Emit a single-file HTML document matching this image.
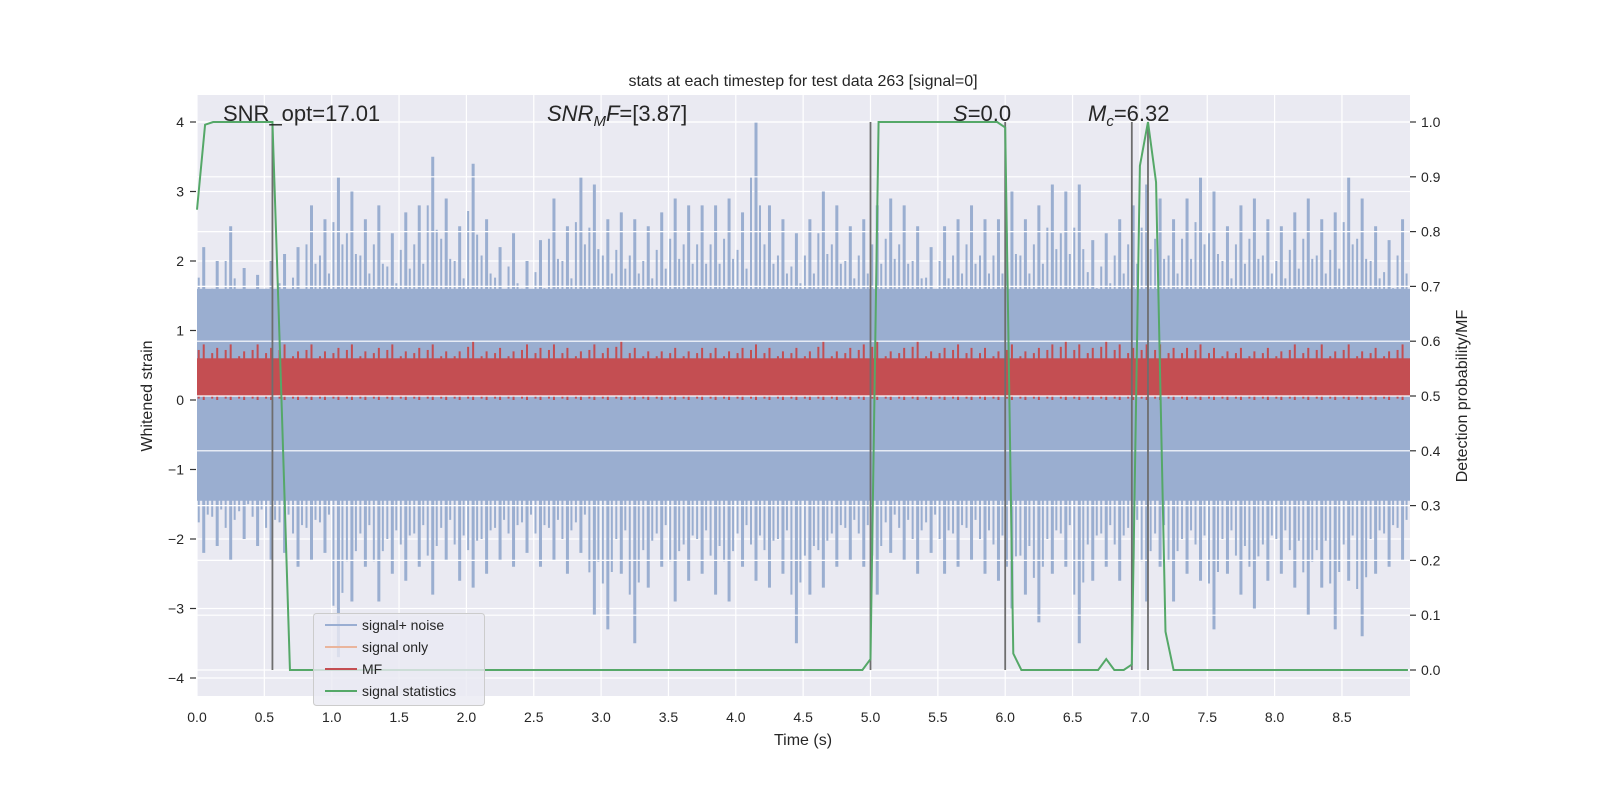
<!DOCTYPE html>
<html><head><meta charset="utf-8"><style>
html,body{margin:0;padding:0;background:#fff;width:1600px;height:800px;overflow:hidden}
svg text{font-family:"Liberation Sans","DejaVu Sans",sans-serif;fill:#262626}
</style></head><body>
<svg id="chart" width="1600" height="800" xmlns="http://www.w3.org/2000/svg">
<rect x="197" y="95" width="1213" height="601" fill="#eaeaf2"/>
<g id="gridL"></g>
<g id="blue"></g>
<g id="red"></g>
<g id="gridR"></g>
<g id="vlines"></g>
<g id="green"></g>
<g id="ticks"></g>
<text x="803" y="86" text-anchor="middle" font-size="16">stats at each timestep for test data 263 [signal=0]</text>
<text x="223" y="121" font-size="22">SNR_opt=17.01</text>
<text x="547" y="121" font-size="22"><tspan font-style="italic">SNR</tspan><tspan font-style="italic" font-size="15" dy="5">M</tspan><tspan font-style="italic" dy="-5">F</tspan>=[3.87]</text>
<text x="953" y="121" font-size="22"><tspan font-style="italic">S</tspan>=0.0</text>
<text x="1088" y="121" font-size="22"><tspan font-style="italic">M</tspan><tspan font-style="italic" font-size="15" dy="5">c</tspan><tspan dy="-5">=6.32</tspan></text>
<text x="803" y="745" text-anchor="middle" font-size="16">Time (s)</text>
<text transform="translate(152,396) rotate(-90)" text-anchor="middle" font-size="16">Whitened strain</text>
<text transform="translate(1467,396) rotate(-90)" text-anchor="middle" font-size="16">Detection probability/MF</text>
<g>
<rect x="313.5" y="613.5" width="171" height="92" rx="3" fill="#eaeaf2" fill-opacity="0.8" stroke="#cccccc"/>
<line x1="325" y1="625" x2="357" y2="625" stroke="#9aaed2" stroke-width="2"/>
<text x="362" y="630" font-size="14">signal+ noise</text>
<line x1="325" y1="647" x2="357" y2="647" stroke="#eab59c" stroke-width="2"/>
<text x="362" y="652" font-size="14">signal only</text>
<line x1="325" y1="669" x2="357" y2="669" stroke="#c44e52" stroke-width="2"/>
<text x="362" y="674" font-size="14">MF</text>
<line x1="325" y1="691" x2="357" y2="691" stroke="#55a868" stroke-width="2"/>
<text x="362" y="696" font-size="14">signal statistics</text>
</g>
</svg>
<script>
const xTicks=[0,0.5,1,1.5,2,2.5,3,3.5,4,4.5,5,5.5,6,6.5,7,7.5,8,8.5];
const xTickLabels=["0.0","0.5","1.0","1.5","2.0","2.5","3.0","3.5","4.0","4.5","5.0","5.5","6.0","6.5","7.0","7.5","8.0","8.5"];
const yTicks=[-4,-3,-2,-1,0,1,2,3,4];
const yTickLabels=["\u22124","\u22123","\u22122","\u22121","0","1","2","3","4"];
const y2Ticks=[0,0.1,0.2,0.3,0.4,0.5,0.6,0.7,0.8,0.9,1.0];
const y2TickLabels=["0.0","0.1","0.2","0.3","0.4","0.5","0.6","0.7","0.8","0.9","1.0"];
// noise peaks per 0.1 s bin
const noiseTop=[2.2,2.0,2.5,1.9,1.8,2.0,2.1,2.2,2.8,2.6,3.2,3.0,2.6,2.8,2.4,2.7,2.8,3.5,2.9,2.5,3.4,2.6,2.2,2.4,2.0,2.3,2.9,2.5,3.2,3.1,2.6,2.7,2.6,2.5,2.7,2.9,2.8,2.8,2.8,2.9,2.7,4.0,2.8,2.6,2.4,2.6,3.0,2.8,2.5,2.6,2.8,2.9,2.8,2.5,2.2,2.5,2.6,2.8,2.6,2.6,3.0,2.6,2.8,3.1,3.0,3.1,2.3,2.4,2.6,2.8,3.1,2.9,2.6,2.9,3.2,3.0,2.5,2.8,2.9,2.6,2.5,2.7,2.9,2.6,2.7,3.2,2.9,2.5,2.3,2.6];
const noiseBot=[-2.2,-2.1,-2.3,-2.0,-2.1,-2.3,-2.2,-2.4,-2.3,-2.2,-3.7,-2.9,-2.4,-2.9,-2.5,-2.6,-2.4,-2.8,-2.3,-2.6,-2.7,-2.5,-2.3,-2.4,-2.2,-2.4,-2.3,-2.5,-2.2,-3.1,-3.3,-2.5,-3.5,-2.7,-2.4,-2.9,-2.6,-2.5,-2.8,-2.9,-2.4,-2.6,-2.7,-2.5,-3.5,-2.8,-2.7,-2.4,-2.3,-2.4,-2.8,-2.2,-2.3,-2.5,-2.2,-2.5,-2.4,-2.3,-2.5,-2.6,-3.0,-2.8,-3.2,-2.5,-2.4,-3.5,-2.6,-2.4,-2.6,-2.3,-2.9,-2.4,-2.9,-2.5,-2.6,-3.3,-2.5,-2.8,-3.0,-2.6,-2.5,-2.7,-3.1,-2.7,-3.3,-2.6,-3.4,-2.5,-2.4,-2.3];
// MF peaks per 0.1 s bin
const mfTop=[0.8,0.75,0.8,0.7,0.8,0.75,0.8,0.7,0.8,0.7,0.75,0.8,0.7,0.75,0.8,0.7,0.75,0.8,0.7,0.7,0.85,0.7,0.75,0.7,0.8,0.75,0.8,0.75,0.7,0.8,0.75,0.85,0.75,0.7,0.7,0.75,0.7,0.75,0.75,0.7,0.75,0.8,0.75,0.7,0.75,0.7,0.85,0.7,0.75,0.8,0.85,0.7,0.75,0.85,0.7,0.75,0.8,0.75,0.75,0.7,0.8,0.7,0.75,0.8,0.85,0.8,0.75,0.85,0.8,0.75,0.8,0.8,0.75,0.75,0.8,0.75,0.7,0.75,0.7,0.75,0.7,0.8,0.75,0.8,0.7,0.8,0.7,0.75,0.7,0.8];
const statT=[0,0.06,0.12,0.19,0.25,0.31,0.38,0.44,0.5,0.56,0.62,0.69,1.0,2.0,3.0,4.0,4.94,5.0,5.06,5.5,5.88,5.94,6.0,6.06,6.12,6.5,6.69,6.75,6.81,6.88,6.94,7.0,7.06,7.12,7.19,7.25,7.31,8.0,8.99];
const statV=[0.84,0.995,1.0,1.0,1.0,1.0,1.0,1.0,1.0,1.0,0.55,0.0,0.0,0.0,0.0,0.0,0.0,0.02,1.0,1.0,1.0,1.0,0.99,0.03,0.0,0.0,0.0,0.02,0.0,0.0,0.01,0.92,1.0,0.89,0.07,0.0,0.0,0.0,0.0];
const markerT=[0.56,5.0,6.0,6.94,7.06];

const NS='http://www.w3.org/2000/svg';
const X=t=>197+t*134.7;
const YL=v=>400-v*69.5;
const YR=p=>670-p*548;
function mk(tag,attrs,parent){const e=document.createElementNS(NS,tag);for(const k in attrs)e.setAttribute(k,attrs[k]);document.getElementById(parent).appendChild(e);return e;}

xTicks.forEach((t,i)=>{
 const g=mk('line',{x1:X(t),x2:X(t),y1:95,y2:696,stroke:'#fff','stroke-width':1.2},'gridL');
 
 
 const l=mk('text',{x:X(t),y:722,'text-anchor':'middle','font-size':14},'ticks');l.textContent=xTickLabels[i];
 
 
});
yTicks.forEach((v,i)=>{
 const g=mk('line',{x1:197,x2:1410,y1:YL(v),y2:YL(v),stroke:'#fff','stroke-width':1.2},'gridL');
 
 
 const tk=mk('line',{x1:190,x2:196,y1:YL(v),y2:YL(v),stroke:'#333','stroke-width':1.2},'ticks');
 
 
 const l=mk('text',{x:184,y:YL(v)+5,'text-anchor':'end','font-size':14},'ticks');l.textContent=yTickLabels[i];
 
 
});
y2Ticks.forEach((p,i)=>{
 const g=mk('line',{x1:197,x2:1410,y1:YR(p),y2:YR(p),stroke:'#fff','stroke-width':1.2},'gridR');
 
 
 const tk=mk('line',{x1:1410,x2:1416,y1:YR(p),y2:YR(p),stroke:'#333','stroke-width':1.2},'ticks');
 
 
 const l=mk('text',{x:1421,y:YR(p)+5,'font-size':14},'ticks');l.textContent=y2TickLabels[i];
 
 
});
const core=mk('rect',{x:197,y:YL(1.6),width:1213,height:YL(-1.45)-YL(1.6),fill:'#9aaed0'},'blue');


noiseTop.forEach((v,i)=>{
 const t=i*0.1+0.05;
 const b=mk('line',{x1:X(t),x2:X(t),y1:YL(v),y2:YL(noiseBot[i]),stroke:'#9aaed0','stroke-width':3},'blue');
 
 
 const b2=mk('line',{x1:X(t)-5,x2:X(t)-5,y1:YL(v*0.8),y2:YL(noiseBot[i]*0.8),stroke:'#9aaed0','stroke-width':2},'blue');
 
 
 const b3=mk('line',{x1:X(t)+4,x2:X(t)+4,y1:YL(v*0.7),y2:YL(noiseBot[i]*0.75),stroke:'#9aaed0','stroke-width':2},'blue');
 
 
});
const rcore=mk('rect',{x:197,y:YL(0.6),width:1213,height:YL(0.06)-YL(0.6),fill:'#c44e52'},'red');


mfTop.forEach((v,i)=>{
 const t=i*0.1+0.05;
 const r=mk('line',{x1:X(t),x2:X(t),y1:YL(v),y2:YL(0),stroke:'#c44e52','stroke-width':2},'red');
 
 
 const r2=mk('line',{x1:X(t)-5,x2:X(t)-5,y1:YL(v*0.9),y2:YL(0.02),stroke:'#c44e52','stroke-width':2},'red');
 
 
});
markerT.forEach(t=>{
 const m=mk('line',{x1:X(t),x2:X(t),y1:YR(1.0),y2:YR(0),stroke:'#6e6e6e','stroke-width':1.8},'vlines');
 
 
});
const pl=mk('polyline',{points:statT.map((t,i)=>X(t)+','+YR(statV[i])).join(' '),fill:'none',stroke:'#55a868','stroke-width':2},'green');


</script>
</body></html>
